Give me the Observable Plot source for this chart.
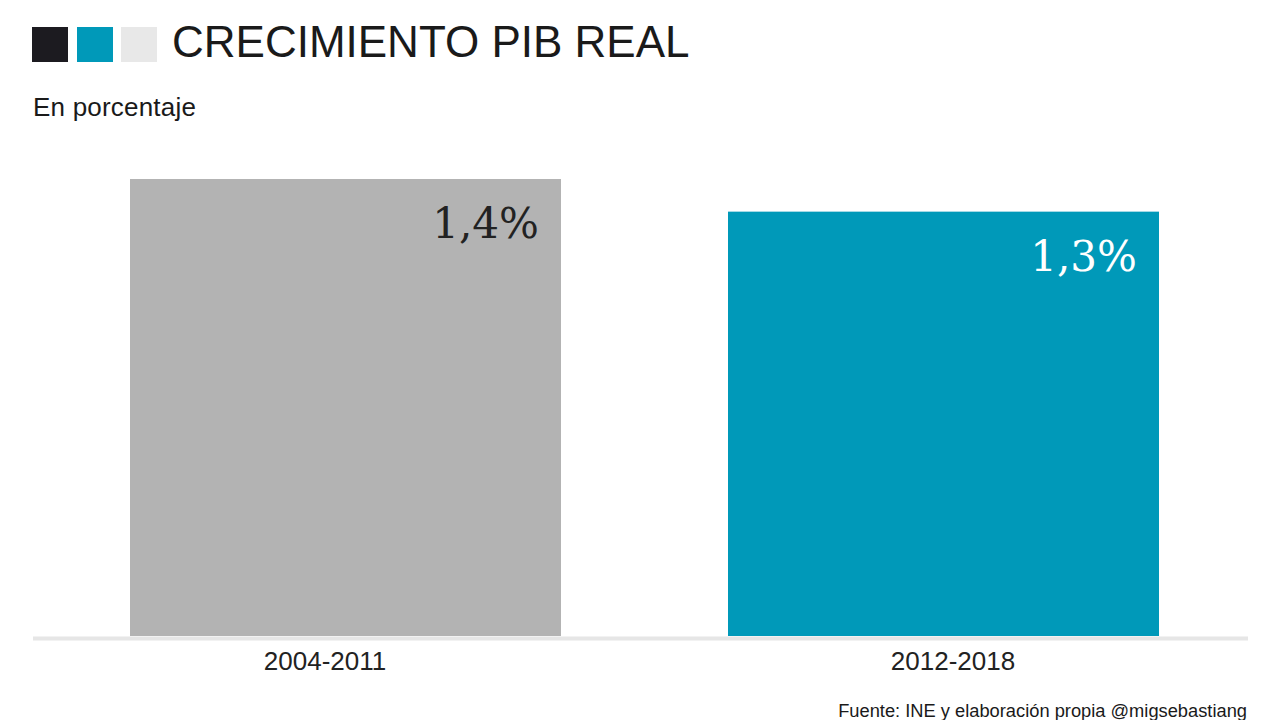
<!DOCTYPE html>
<html>
<head>
<meta charset="utf-8">
<script src="https://cdn.jsdelivr.net/npm/d3@7"></script>
<script src="https://cdn.jsdelivr.net/npm/@observablehq/plot@0.6"></script>
<style>
  html, body { margin: 0; padding: 0; background: #fff; width: 1280px; height: 720px; overflow: hidden; position: relative; font-family: "Liberation Sans", Arial, sans-serif; }
  #header { position: relative; height: 140px; }
  .sq { position: absolute; top: 27px; width: 36px; height: 35px; }
  #title { position: absolute; left: 172px; top: 17px; font-size: 44px; color: #1a1a1a; white-space: nowrap; }
  #subtitle { position: absolute; left: 33px; top: 92px; font-size: 26px; color: #1a1a1a; white-space: nowrap; letter-spacing: 0.2px; }
  #footer { position: absolute; right: 33px; top: 700px; font-size: 18.3px; color: #1a1a1a; white-space: nowrap; }
  #chart svg { display: block; }
</style>
</head>
<body>
<div id="header">
  <div class="sq" style="left:32px;background:#1c1b20;"></div>
  <div class="sq" style="left:77px;background:#0099b9;"></div>
  <div class="sq" style="left:121px;background:#e8e8e8;"></div>
  <div id="title">CRECIMIENTO PIB REAL</div>
  <div id="subtitle">En porcentaje</div>
</div>
<div id="chart"></div>
<div id="footer">Fuente: INE y elaboración propia @migsebastiang</div>
<script>
// Data
const periods = ["2004-2011", "2012-2018"];
const growth = [1.4, 1.3];
const valueLabels = ["1,4%", "1,3%"];

// Styles
const barColors = ["#b3b3b3", "#0099b9"];
const labelColors = ["#222222", "#ffffff"];

const data = periods.map((p, i) => ({ period: p, value: growth[i], label: valueLabels[i] }));

const axisStyle = { tickSize: 0, tickPadding: 15, fontSize: 26, fontFamily: "Liberation Sans", color: "#222", label: null };

const chart = Plot.plot({
  width: 1280,
  height: 560,
  marginTop: 39,
  marginBottom: 64,
  marginLeft: 37,
  marginRight: 28,
  x: { domain: periods, paddingInner: 0.279, paddingOuter: 0.154 },
  y: { domain: [0, 1.4], axis: null },
  color: { domain: periods, range: barColors },
  marks: [
    Plot.ruleY([0], { stroke: "#e6e6e6", strokeWidth: 4, dy: 2, dx: -4 }),
    Plot.barY(data, { x: "period", y: "value", fill: "period" }),
    Plot.text(data, {
      x: "period", y: "value", text: "label",
      textAnchor: "end", lineAnchor: "top",
      dx: 193, dy: 29,
      fontSize: 42, fontFamily: "DejaVu Serif",
      fill: (d) => labelColors[periods.indexOf(d.period)]
    }),
    Plot.axisX({ ...axisStyle, ticks: [periods[0]], dx: -21 }),
    Plot.axisX({ ...axisStyle, ticks: [periods[1]], dx: 9 })
  ]
});
chart.style.fontFamily = "Liberation Sans";
document.getElementById("chart").appendChild(chart);
</script>
</body>
</html>
